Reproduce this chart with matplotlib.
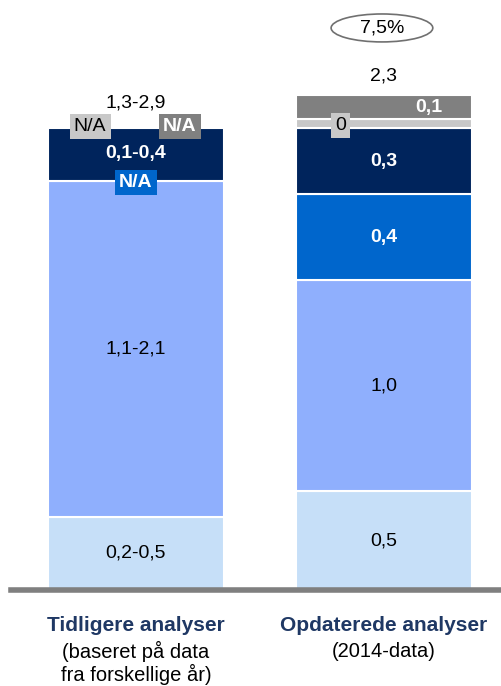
import matplotlib
matplotlib.use("Agg")
import matplotlib.pyplot as plt
from matplotlib.patches import Ellipse

plt.rcParams['font.family'] = ['Liberation Sans', 'DejaVu Sans']

# data (bottom -> top)
kategorier = ["Tidligere analyser", "Opdaterede analyser"]
undertekst = [["(baseret på data", "fra forskellige år)"], ["(2014-data)"]]
farver = ["#C6DFF8", "#8FAFFD", "#0066CC", "#00245C", "#C8C8C8", "#808080"]

tidligere = [0.34, 1.56, 0.0, 0.25]
tidligere_lbl = ["0,2-0,5", "1,1-2,1", None, "0,1-0,4"]
opdaterede = [0.46, 0.98, 0.40, 0.31, 0.04, 0.11]
opdaterede_lbl = ["0,5", "1,0", "0,4", "0,3", "0", "0,1"]
total_lbl = ["1,3-2,9", "2,3"]
vaekst = "7,5%"

fig = plt.figure(figsize=(5.01, 6.86), dpi=100)
ax = fig.add_axes([0, 0, 1, 1])
ax.set_xlim(-0.548, 1.472)
ax.set_ylim(-0.4465, 2.744)
ax.axis("off")

w = 0.71
fs = 14
tekstfarve = ["black", "black", "white", "white", "black", "white"]
fed = [False, False, True, True, False, True]

# bar 1
bund = 0
for i, v in enumerate(tidligere):
    if v > 0:
        ax.bar(0, v, w, bottom=bund, color=farver[i], edgecolor="white", linewidth=1.5)
    bund += v
top1 = bund
ax.text(0, 0.17, tidligere_lbl[0], ha="center", va="center", fontsize=fs)
ax.text(0, 0.34 + 0.78, tidligere_lbl[1], ha="center", va="center", fontsize=fs)
ax.text(0, top1 - 0.12, tidligere_lbl[3], ha="center", va="center", fontsize=fs,
        color="white", fontweight="bold")
ax.text(0, top1 - 0.255, "N/A", ha="center", va="center", fontsize=fs, color="white",
        fontweight="bold", bbox=dict(boxstyle="square,pad=0.22", fc=farver[2], ec="none"))
ax.text(-0.185, top1 + 0.005, "N/A", ha="center", va="center", fontsize=fs, color="black",
        bbox=dict(boxstyle="square,pad=0.22", fc=farver[4], ec="none"))
ax.text(0.178, top1 + 0.005, "N/A", ha="center", va="center", fontsize=fs, color="white",
        fontweight="bold", bbox=dict(boxstyle="square,pad=0.22", fc=farver[5], ec="none"))
ax.text(0, top1 + 0.115, total_lbl[0], ha="center", va="center", fontsize=fs)

# bar 2
bund = 0
for i, v in enumerate(opdaterede):
    ax.bar(1, v, w, bottom=bund, color=farver[i], edgecolor="white", linewidth=1.5)
    if i < 4:
        ax.text(1, bund + v / 2, opdaterede_lbl[i], ha="center", va="center", fontsize=fs,
                color=tekstfarve[i], fontweight="bold" if fed[i] else "normal")
    bund += v
top2 = bund
ax.text(0.825, 0.46 + 0.98 + 0.40 + 0.31 + 0.01, opdaterede_lbl[4], ha="center", va="center",
        fontsize=fs, bbox=dict(boxstyle="square,pad=0.2", fc=farver[4], ec="none"))
ax.text(1.18, top2 - 0.055, opdaterede_lbl[5], ha="center", va="center", fontsize=fs,
        color="white", fontweight="bold")
ax.text(1, top2 + 0.09, total_lbl[1], ha="center", va="center", fontsize=fs)
ax.add_patch(Ellipse((0.992, 2.614), 0.41, 0.13, fc="white", ec="#707070", lw=1.2))
ax.text(0.992, 2.614, vaekst, ha="center", va="center", fontsize=fs)

# baseline
ax.axhline(0, xmin=11 / 501, xmax=1, color="#7F7F7F", lw=4)

# category labels
for i in range(2):
    ax.text(i, -0.163, kategorier[i], ha="center", va="center", fontsize=15,
            fontweight="bold", color="#1F3864")
    for j, linje in enumerate(undertekst[i]):
        ax.text(i, -0.284 - 0.111 * j, linje, ha="center", va="center", fontsize=14.5)

fig.savefig("out.png", dpi=100)
